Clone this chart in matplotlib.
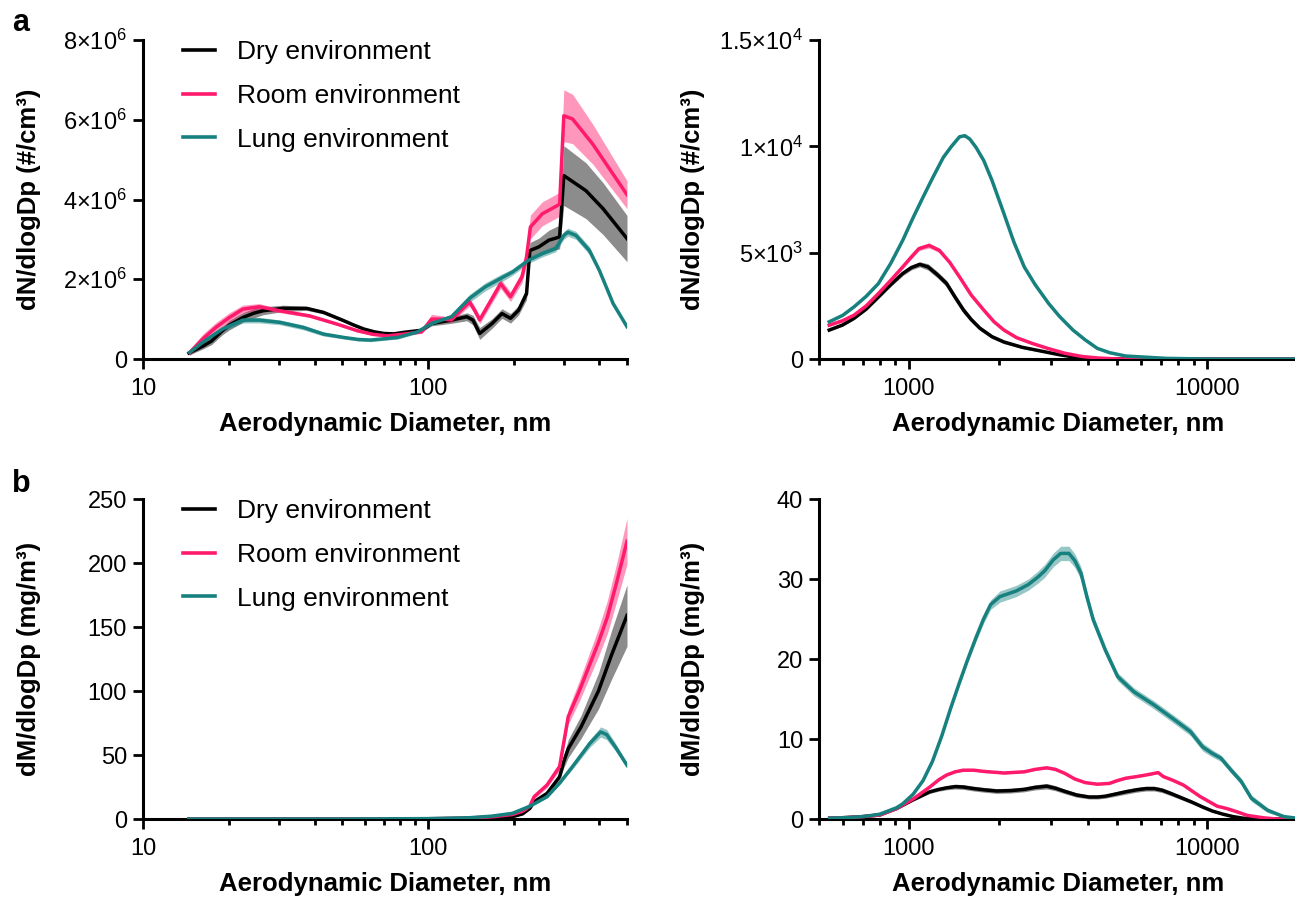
import numpy as np
import matplotlib
matplotlib.use("Agg")
import matplotlib.pyplot as plt
from matplotlib.ticker import FixedLocator, NullFormatter

plt.rcParams["font.family"] = ["Liberation Sans", "DejaVu Sans"]
plt.rcParams["mathtext.fontset"] = "custom"
plt.rcParams["mathtext.rm"] = "Liberation Sans"
plt.rcParams["mathtext.it"] = "Liberation Sans:italic"
plt.rcParams["mathtext.bf"] = "Liberation Sans:bold"

C_DRY = "#000000"
C_ROOM = "#FF1A6C"
C_LUNG = "#17817F"
names = ["Dry environment", "Room environment", "Lung environment"]

# ---- a, left : number distribution (x in nm, y in 1e6 #/cm3)
dry_n_x = [14.5, 16.2, 17.4, 19.0, 20.1, 22.4, 24.5, 26.4, 31, 37.5, 43, 50.7, 55, 59.7, 65, 70.2, 76, 82.6, 95, 102.8,
           121, 137, 144, 152, 168, 182, 195, 208, 222, 228, 245, 266, 290, 300, 359, 412, 500]
dry_n = [0.15, 0.32, 0.45, 0.71, 0.85, 1.04, 1.15, 1.21, 1.27, 1.27, 1.17, 0.96, 0.85, 0.75, 0.68, 0.64, 0.63, 0.67, 0.72, 0.89,
         0.975, 1.06, 0.975, 0.64, 0.89, 1.14, 1.02, 1.22, 1.64, 2.72, 2.81, 2.98, 3.06, 4.6, 4.22, 3.77, 3.02]
dry_n_err = [0.05, 0.07, 0.09, 0.1, 0.12, 0.12, 0.12, 0.1, 0.08, 0.05, 0.04, 0.03, 0.03, 0.03, 0.03, 0.03, 0.03, 0.03, 0.04, 0.06,
             0.08, 0.1, 0.12, 0.15, 0.12, 0.12, 0.12, 0.12, 0.15, 0.2, 0.22, 0.25, 0.3, 0.75, 0.7, 0.65, 0.58]

room_n_x = [14.6, 16.2, 18.0, 20.1, 22.4, 25.6, 30.2, 38.5, 48, 56.5, 64, 72, 82.6, 95, 103, 113, 121, 140, 146,
            152, 180, 195, 214, 222, 229, 252, 290, 300, 322, 379, 500]
room_n = [0.165, 0.5, 0.79, 1.04, 1.25, 1.31, 1.21, 1.08, 0.875, 0.71, 0.62, 0.58, 0.625, 0.68, 1.0, 1.0, 0.98, 1.43, 1.22,
          0.98, 1.89, 1.56, 2.06, 2.56, 3.31, 3.64, 3.88, 6.1, 6.02, 5.39, 4.12]
room_n_err = [0.08, 0.12, 0.12, 0.12, 0.1, 0.08, 0.05, 0.04, 0.03, 0.03, 0.03, 0.03, 0.03, 0.04, 0.12, 0.08, 0.06, 0.1, 0.1,
              0.1, 0.12, 0.12, 0.15, 0.2, 0.3, 0.3, 0.3, 0.65, 0.62, 0.5, 0.35]

lung_n_x = [14.6, 16.2, 19.0, 22.4, 25.6, 30.2, 36.6, 43, 50.7, 57, 63, 78.3, 92, 103, 121, 140, 159, 180, 198,
            226, 252, 281, 300, 310, 331, 369, 400, 447, 500]
lung_n = [0.165, 0.42, 0.75, 0.975, 0.975, 0.92, 0.79, 0.625, 0.54, 0.49, 0.475, 0.54, 0.68, 0.89, 1.06, 1.52, 1.81, 2.02,
          2.18, 2.48, 2.64, 2.77, 3.1, 3.18, 3.1, 2.72, 2.22, 1.39, 0.81]
lung_n_err = [0.04, 0.05, 0.06, 0.07, 0.07, 0.06, 0.06, 0.05, 0.04, 0.04, 0.04, 0.04, 0.04, 0.05, 0.06, 0.1, 0.1, 0.1,
              0.08, 0.08, 0.08, 0.08, 0.1, 0.1, 0.1, 0.1, 0.06, 0.04, 0.03]

# ---- a, right : number distribution, coarse (y in 1e3 #/cm3)
dry_nc_x = [541, 600, 655, 720, 791, 870, 954, 1020, 1088, 1160, 1250, 1338, 1430, 1525, 1620, 1730, 1900, 2084,
            2400, 2851, 3200, 3550, 4300, 20000]
dry_nc = [1.36, 1.6, 1.91, 2.35, 2.92, 3.5, 4.02, 4.3, 4.45, 4.33, 3.95, 3.55, 2.9, 2.3, 1.85, 1.45, 1.05, 0.8,
          0.55, 0.34, 0.2, 0.1, 0.0, 0.0]
dry_nc_err = [0.05, 0.05, 0.05, 0.06, 0.08, 0.09, 0.1, 0.11, 0.12, 0.15, 0.15, 0.15, 0.15, 0.15, 0.12, 0.1, 0.09, 0.08,
              0.06, 0.04, 0.03, 0.02, 0, 0]

room_nc_x = [541, 600, 655, 720, 791, 870, 954, 1020, 1081, 1169, 1265, 1370, 1479, 1620, 1783, 1930, 2084, 2300,
             2594, 2950, 3334, 3800, 4283, 5000, 20000]
room_nc = [1.59, 1.8, 2.06, 2.5, 3.08, 3.7, 4.33, 4.8, 5.19, 5.34, 5.11, 4.55, 3.86, 3.0, 2.30, 1.75, 1.36, 1.0,
           0.73, 0.48, 0.27, 0.12, 0.05, 0.0, 0.0]
room_nc_err = [0.05, 0.05, 0.05, 0.05, 0.05, 0.06, 0.08, 0.09, 0.1, 0.12, 0.1, 0.09, 0.08, 0.06, 0.05, 0.04, 0.03, 0.02,
               0.02, 0.01, 0.01, 0.01, 0, 0, 0]

lung_nc_x = [541, 600, 655, 720, 791, 870, 954, 1030, 1116, 1200, 1305, 1390, 1479, 1540, 1599, 1680, 1783, 1900,
             2084, 2250, 2437, 2650, 2942, 3200, 3550, 3900, 4283, 4700, 5336, 7286, 10000, 20000]
lung_nc = [1.75, 2.05, 2.45, 2.95, 3.55, 4.5, 5.58, 6.6, 7.61, 8.5, 9.48, 10.0, 10.45, 10.5, 10.35, 9.95, 9.33, 8.4,
           6.83, 5.5, 4.33, 3.5, 2.61, 2.0, 1.36, 0.9, 0.50, 0.3, 0.14, 0.03, 0.0, 0.0]
lung_nc_err = [0.03, 0.03, 0.03, 0.04, 0.04, 0.05, 0.05, 0.06, 0.06, 0.06, 0.06, 0.06, 0.06, 0.06, 0.06, 0.05, 0.05, 0.05,
               0.04, 0.04, 0.03, 0.03, 0.02, 0.02, 0.02, 0.01, 0.01, 0.01, 0.01, 0, 0, 0]

# ---- b, left : mass distribution (mg/m3)
dry_m_x = [14.5, 50, 100, 140, 170, 198, 215, 228, 236, 262, 290, 300, 311, 345, 397, 441, 500]
dry_m = [0.0, 0.0, 0.1, 0.4, 0.9, 1.8, 4, 8.3, 13.5, 20, 33, 45, 55, 72, 100, 128, 159]
dry_m_err = [0, 0, 0, 0.05, 0.1, 0.2, 0.4, 0.8, 1, 1.5, 2, 5, 7, 9, 14, 19, 24]

room_m_x = [14.5, 50, 100, 140, 170, 198, 215, 228, 236, 262, 290, 300, 311, 340, 397, 427, 460, 500]
room_m = [0.0, 0.0, 0.2, 0.8, 1.8, 3.5, 6, 10, 17.4, 26.6, 41, 60, 80, 100, 138, 158, 185, 217]
room_m_err = [0, 0, 0, 0.1, 0.2, 0.4, 0.6, 1, 1.5, 2, 3, 4, 6, 8, 11, 13, 15, 18]

lung_m_x = [14.5, 50, 100, 140, 167, 198, 228, 262, 290, 322, 370, 404, 424, 456, 500]
lung_m = [0.0, 0.0, 0.3, 1.0, 2.2, 4.4, 10, 17.4, 28, 41, 59, 68, 66, 56, 42]
lung_m_err = [0, 0, 0, 0.1, 0.2, 0.4, 0.6, 0.8, 1, 2, 3, 4, 4, 3, 2]

# ---- b, right : mass distribution, coarse (mg/m3)
dry_mc_x = [543, 620, 703, 799, 909, 1034, 1176, 1260, 1339, 1432, 1521, 1650, 1783, 1969, 2200, 2437, 2650, 2898,
            3100, 3334, 3650, 4020, 4300, 4557, 4900, 5336, 5800, 6238, 6650, 7065, 7600, 8260, 8900, 9660, 10400,
            11300, 12200, 13200, 14500, 20000]
dry_mc = [0.1, 0.18, 0.3, 0.5, 1.3, 2.4, 3.4, 3.7, 3.9, 4.05, 4.0, 3.8, 3.65, 3.5, 3.55, 3.7, 3.95, 4.1,
          3.85, 3.45, 3.0, 2.75, 2.75, 2.85, 3.1, 3.4, 3.65, 3.8, 3.8, 3.6, 3.15, 2.6, 2.1, 1.5, 1.0,
          0.6, 0.3, 0.1, 0.0, 0.0]
dry_mc_err = [0.02, 0.03, 0.05, 0.08, 0.1, 0.15, 0.2, 0.22, 0.25, 0.3, 0.3, 0.3, 0.3, 0.3, 0.3, 0.3, 0.32, 0.35,
              0.32, 0.3, 0.28, 0.25, 0.25, 0.25, 0.28, 0.3, 0.3, 0.3, 0.3, 0.3, 0.28, 0.25, 0.22, 0.2, 0.15,
              0.1, 0.07, 0.05, 0, 0]

room_mc_x = [543, 620, 703, 799, 909, 1034, 1176, 1260, 1339, 1430, 1521, 1650, 1783, 2084, 2437, 2650, 2898, 3100,
             3334, 3600, 3900, 4283, 4704, 5000, 5336, 5800, 6238, 6850, 7130, 7600, 8320, 9475, 10800, 11650, 12580,
             13620, 15450, 17000, 20000]
room_mc = [0.1, 0.18, 0.3, 0.5, 1.3, 2.5, 4.0, 4.9, 5.5, 5.9, 6.1, 6.1, 5.95, 5.75, 5.9, 6.2, 6.4, 6.2,
           5.7, 5.0, 4.55, 4.35, 4.45, 4.8, 5.1, 5.3, 5.5, 5.8, 5.3, 4.9, 4.25, 2.8, 1.6, 1.3, 0.9,
           0.45, 0.15, 0.0, 0.0]
room_mc_err = [0.02, 0.03, 0.05, 0.05, 0.08, 0.1, 0.1, 0.11, 0.12, 0.12, 0.12, 0.12, 0.12, 0.12, 0.12, 0.12, 0.12, 0.12,
               0.12, 0.11, 0.1, 0.1, 0.1, 0.1, 0.1, 0.1, 0.1, 0.1, 0.1, 0.1, 0.1, 0.08, 0.06, 0.05, 0.04,
               0.03, 0.01, 0, 0]

lung_mc_x = [543, 620, 703, 799, 909, 954, 1034, 1116, 1200, 1290, 1380, 1470, 1570, 1676, 1780, 1880, 2020, 2290,
             2514, 2700, 2851, 3050, 3229, 3441, 3600, 3778, 3950, 4150, 4557, 5010, 5680, 6640, 7770, 8800, 9660,
             10400, 11120, 12030, 13000, 14060, 15930, 18060, 20000]
lung_mc = [0.1, 0.18, 0.3, 0.6, 1.4, 1.9, 3.1, 4.8, 7.2, 10.4, 13.8, 16.8, 19.8, 22.6, 25.0, 26.8, 27.8, 28.5,
           29.3, 30.2, 31.0, 32.4, 33.2, 33.2, 32.3, 30.7, 27.8, 24.9, 21.1, 17.8, 15.9, 14.25, 12.4, 10.9, 9.0,
           8.2, 7.6, 6.1, 4.7, 2.6, 1.1, 0.3, 0.1]
lung_mc_err = [0.02, 0.03, 0.05, 0.05, 0.1, 0.12, 0.15, 0.18, 0.2, 0.25, 0.3, 0.35, 0.4, 0.5, 0.55, 0.6, 0.7, 0.7,
               0.7, 0.75, 0.8, 0.85, 0.9, 0.9, 0.85, 0.8, 0.7, 0.6, 0.5, 0.5, 0.5, 0.5, 0.5, 0.5, 0.5,
               0.45, 0.4, 0.4, 0.4, 0.4, 0.3, 0.1, 0.05]

# tick labels
yt_nl = [0, 2e6, 4e6, 6e6, 8e6]
yl_nl = ["0", r"$\mathregular{2{\times}10^{6}}$", r"$\mathregular{4{\times}10^{6}}$",
         r"$\mathregular{6{\times}10^{6}}$", r"$\mathregular{8{\times}10^{6}}$"]
yt_nr = [0, 5e3, 1e4, 1.5e4]
yl_nr = ["0", r"$\mathregular{5{\times}10^{3}}$", r"$\mathregular{1{\times}10^{4}}$",
         r"$\mathregular{1.5{\times}10^{4}}$"]
yt_ml = [0, 50, 100, 150, 200, 250]
yt_mr = [0, 10, 20, 30, 40]


def draw(ax, x, y, err, color, label, scale=1.0):
	x = np.array(x, dtype=float)
	y = np.array(y, dtype=float) * scale
	e = np.array(err, dtype=float) * scale
	ax.fill_between(x, np.clip(y - e, 0, None), y + e, color=color, alpha=0.45, lw=0, zorder=2)
	ax.plot(x, y, color=color, lw=2.5, label=label, zorder=3, solid_joinstyle="round")


def style(ax, xlim, xmajor, yticks, ylabels, ylabel, lab_x):
	ax.set_xscale("log")
	ax.set_xlim(*xlim)
	ax.set_ylim(yticks[0], yticks[-1])
	ax.spines["top"].set_visible(False)
	ax.spines["right"].set_visible(False)
	for s in ["left", "bottom"]:
		ax.spines[s].set_linewidth(2.2)
	ax.xaxis.set_major_locator(FixedLocator(xmajor))
	ax.set_xticklabels([str(v) for v in xmajor])
	minors = [k * 10 ** p for p in range(1, 5) for k in range(2, 10) if xlim[0] <= k * 10 ** p <= xlim[1]]
	ax.xaxis.set_minor_locator(FixedLocator(minors))
	ax.xaxis.set_minor_formatter(NullFormatter())
	ax.set_yticks(yticks)
	ax.set_yticklabels(ylabels)
	ax.tick_params(which="major", direction="out", length=7.5, width=2.0, labelsize=17, pad=4)
	ax.tick_params(which="minor", direction="out", length=4.5, width=2.0)
	ax.tick_params(axis="x", which="major", pad=6)
	ax.set_xlabel("Aerodynamic Diameter, nm", fontsize=18.5, fontweight="bold")
	ax.xaxis.set_label_coords(0.5, -0.165)
	ax.set_ylabel(ylabel, fontsize=18.5, fontweight="bold")
	ax.yaxis.set_label_coords(lab_x, 0.5)


W, H = 1295, 898
fig = plt.figure(figsize=(W / 100, H / 100), dpi=100)


def box(l, r, t, b):
	return [l / W, 1 - b / H, (r - l) / W, (b - t) / H]


ax1 = fig.add_axes(box(143, 627, 40, 359))
ax2 = fig.add_axes(box(819, 1297, 40, 359))
ax3 = fig.add_axes(box(143, 627, 499, 819))
ax4 = fig.add_axes(box(819, 1297, 499, 819))

draw(ax1, dry_n_x, dry_n, dry_n_err, C_DRY, names[0], 1e6)
draw(ax1, room_n_x, room_n, room_n_err, C_ROOM, names[1], 1e6)
draw(ax1, lung_n_x, lung_n, lung_n_err, C_LUNG, names[2], 1e6)

draw(ax2, dry_nc_x, dry_nc, dry_nc_err, C_DRY, names[0], 1e3)
draw(ax2, room_nc_x, room_nc, room_nc_err, C_ROOM, names[1], 1e3)
draw(ax2, lung_nc_x, lung_nc, lung_nc_err, C_LUNG, names[2], 1e3)

draw(ax3, dry_m_x, dry_m, dry_m_err, C_DRY, names[0])
draw(ax3, room_m_x, room_m, room_m_err, C_ROOM, names[1])
draw(ax3, lung_m_x, lung_m, lung_m_err, C_LUNG, names[2])

draw(ax4, dry_mc_x, dry_mc, dry_mc_err, C_DRY, names[0])
draw(ax4, room_mc_x, room_mc, room_mc_err, C_ROOM, names[1])
draw(ax4, lung_mc_x, lung_mc, lung_mc_err, C_LUNG, names[2])

style(ax1, (10, 500), [10, 100], yt_nl, yl_nl, "dN/dlogDp (#/cm³)", -0.21)
style(ax2, (500, 20000), [1000, 10000], yt_nr, yl_nr, "dN/dlogDp (#/cm³)", -0.238)
style(ax3, (10, 500), [10, 100], yt_ml, [str(v) for v in yt_ml], "dM/dlogDp (mg/m³)", -0.21)
style(ax4, (500, 20000), [1000, 10000], yt_mr, [str(v) for v in yt_mr], "dM/dlogDp (mg/m³)", -0.238)

for ax in [ax1, ax3]:
	leg = ax.legend(loc="upper left", bbox_to_anchor=(0.083, 1.0), frameon=False, fontsize=19,
	                handlelength=1.2, handletextpad=0.85, labelspacing=0.75, borderpad=0, borderaxespad=0)
	for h in leg.get_lines():
		h.set_linewidth(2.6)

fig.text(12 / W, 1 - 31 / H, "a", fontsize=22, fontweight="bold", va="baseline", ha="left")
fig.text(12 / W, 1 - 492 / H, "b", fontsize=22, fontweight="bold", va="baseline", ha="left")

fig.savefig("out.png", dpi=100)
